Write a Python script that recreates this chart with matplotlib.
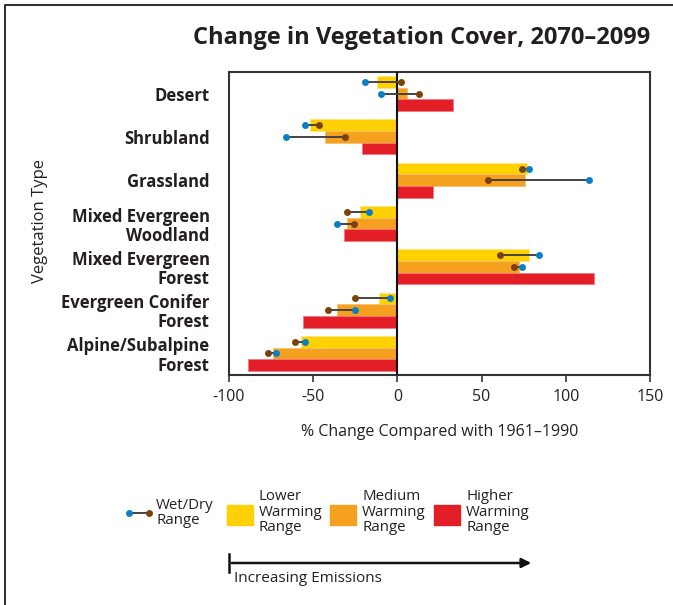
import numpy as np
import matplotlib
matplotlib.use('Agg')
import matplotlib.pyplot as plt
from matplotlib.patches import Rectangle, FancyArrowPatch

plt.rcParams['font.family'] = ['Open Sans', 'DejaVu Sans']

# data
categories = ['Desert', 'Shrubland', 'Grassland', 'Mixed Evergreen\nWoodland',
              'Mixed Evergreen\nForest', 'Evergreen Conifer\nForest',
              'Alpine/Subalpine\nForest']
lower = [-12, -52, 77, -22, 78, -11, -57]
medium = [5.5, -43, 76, -30, 72, -36, -74]
higher = [33, -21, 21, -31.5, 117, -56, -89]
lower_wet = [-19, -55, 78, -17, 84, -4.5, -55]
lower_dry = [2, -46.5, 74, -30, 61, -25, -61]
medium_wet = [-10, -66, 114, -36, 74, -25, -72]
medium_dry = [13, -31, 54, -26, 69, -41, -77]
xticks = [-100, -50, 0, 50, 100, 150]

c_low = '#FFD100'
c_med = '#F5A01F'
c_high = '#E41E26'
c_wet = '#0A7FC4'
c_dry = '#7A4208'
c_line = '#444444'
dark = '#333333'

W, H = 673, 605
fig = plt.figure(figsize=(W / 100, H / 100), dpi=100)
ax = fig.add_axes([229 / W, 1 - 375 / H, (650 - 229) / W, (375 - 72) / H])

y = np.arange(len(categories))
bh = 0.27
ax.barh(y - bh, lower, height=bh, color=c_low, edgecolor='#FFE680', lw=0.6, zorder=2)
ax.barh(y, medium, height=bh, color=c_med, edgecolor='#F9C070', lw=0.6, zorder=2)
ax.barh(y + bh, higher, height=bh, color=c_high, edgecolor='#F07A7E', lw=0.6, zorder=2)

ax.axvline(0, color='#111111', lw=1.5, zorder=3)

for yy, wet, dry in [(y - bh, lower_wet, lower_dry), (y, medium_wet, medium_dry)]:
    for i in range(len(categories)):
        ax.plot([wet[i], dry[i]], [yy[i], yy[i]], color=c_line, lw=1.4, zorder=4)
    ax.plot(wet, yy, 'o', color=c_wet, ms=5, mec='none', zorder=5)
    ax.plot(dry, yy, 'o', color=c_dry, ms=5, mec='none', zorder=5)

ax.set_xlim(-100, 150)
ax.set_ylim(6.5, -0.5)
ax.set_xticks(xticks)
ax.set_xticklabels([str(t) for t in xticks], fontsize=11.5, color='#222222')
ax.tick_params(axis='x', direction='out', length=5, width=1.2, color=dark, pad=5)
ax.set_yticks(y)
ax.set_yticklabels(categories, fontsize=12, fontweight='bold', color='#231f20',
                   linespacing=1.1)
ax.tick_params(axis='y', length=0, pad=14)
for s in ax.spines.values():
    s.set_color(dark)
    s.set_linewidth(1.5)
ax.set_xlabel('% Change Compared with 1961\u20131990', fontsize=11.5, color='#222222',
              labelpad=14)

fig.text(650 / W, 1 - 38 / H, 'Change in Vegetation Cover, 2070\u20132099',
         ha='right', va='center', fontsize=17, fontweight='bold', color='#231f20')
fig.text(40 / W, 1 - 221 / H, 'Vegetation Type', rotation=90, ha='center',
         va='center', fontsize=12, color='#222222')

# overlay in pixel units for the frame and the legend
ov = fig.add_axes([0, 0, 1, 1])
ov.set_xlim(0, W)
ov.set_ylim(H, 0)
ov.axis('off')
ov.plot([5, 5, W + 5], [H + 5, 5, 5], color=dark, lw=1.5)

ov.plot([129, 149], [513, 513], color=c_line, lw=1.4)
ov.plot([129], [513], 'o', color=c_wet, ms=5, mec='none')
ov.plot([149], [513], 'o', color=c_dry, ms=5, mec='none')
ov.text(156, 513, 'Wet/Dry\nRange', ha='left', va='center', fontsize=10.8,
        color='#222222', linespacing=1.05)

for x0, col, lab in [(227, c_low, 'Lower\nWarming\nRange'),
                     (330, c_med, 'Medium\nWarming\nRange'),
                     (434, c_high, 'Higher\nWarming\nRange')]:
    ov.add_patch(Rectangle((x0, 505), 26, 20, color=col))
    ov.text(x0 + 32, 512, lab, ha='left', va='center', fontsize=10.8,
            color='#222222', linespacing=1.05)

ov.plot([229, 229], [554, 572], color='#111111', lw=1.8)
ov.add_patch(FancyArrowPatch((229, 563), (534, 563), arrowstyle='-|>',
                             mutation_scale=14, color='#111111', lw=1.8))
ov.text(234, 578, 'Increasing Emissions', ha='left', va='center', fontsize=11,
        color='#222222')

fig.savefig('out.png', dpi=100)
